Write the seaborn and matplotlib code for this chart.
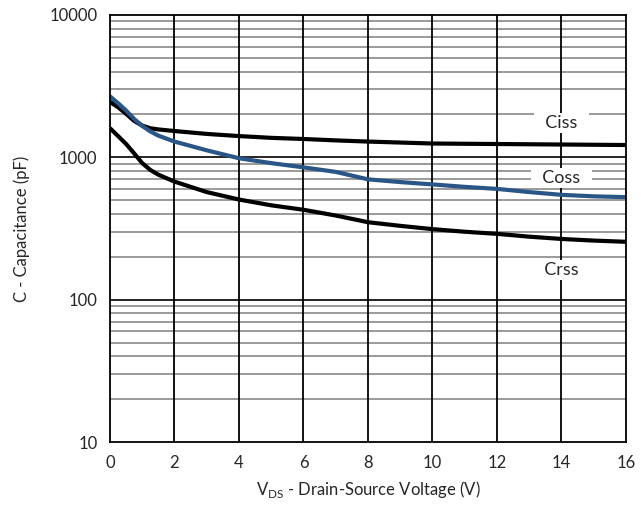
import numpy as np
import pandas as pd
import matplotlib
matplotlib.use('Agg')
import matplotlib.pyplot as plt
import seaborn as sns
from matplotlib.ticker import FixedLocator, NullFormatter

# values (pF vs V)
vds = [0, 0.25, 0.5, 0.75, 1, 1.25, 1.5, 2, 3, 4, 5, 6, 7, 8, 9, 10, 11, 12, 13, 14, 15, 16]
ciss = [2450, 2250, 2020, 1800, 1670, 1600, 1570, 1530, 1460, 1410, 1370, 1345, 1315, 1290,
        1270, 1250, 1245, 1240, 1235, 1230, 1225, 1220]
coss = [2680, 2400, 2130, 1860, 1660, 1520, 1420, 1290, 1120, 985, 910, 850, 790, 700,
        670, 645, 620, 600, 570, 545, 532, 525]
crss = [1600, 1410, 1240, 1065, 910, 815, 755, 675, 570, 505, 460, 428, 390, 350,
        330, 313, 300, 290, 277, 267, 260, 255]

series = ['Ciss', 'Coss', 'Crss']
colors = {'Ciss': 'black', 'Coss': '#2a5587', 'Crss': 'black'}
label_x = 14
label_y = {'Ciss': 1740, 'Coss': 716, 'Crss': 161}

df = pd.DataFrame({'vds': vds * 3,
                   'cap': ciss + coss + crss,
                   'curve': [s for s in series for _ in vds]})

sns.set_style('white')
plt.rcParams['font.family'] = ['Lato', 'DejaVu Sans']

fig = plt.figure(figsize=(6.41, 5.09), dpi=100)
ax = fig.add_axes([0.1716, 0.1316, 0.805, 0.839])

ax.set_yscale('log')
ax.set_xlim(0, 16)
ax.set_ylim(10, 10000)

# grid: gray minor decades, black majors and verticals
minors = [m * 10 ** d for d in range(1, 4) for m in range(2, 10)]
for y in minors:
    ax.axhline(y, color='#9a9a9a', lw=1.4, zorder=1)
for y in [100, 1000]:
    ax.axhline(y, color='black', lw=1.2, zorder=1)
for x in range(2, 16, 2):
    ax.axvline(x, color='black', lw=1.3, zorder=1)

sns.lineplot(data=df, x='vds', y='cap', hue='curve', palette=colors, lw=3,
             legend=False, ax=ax, zorder=3)

for s in series:
    ax.text(label_x, label_y[s], '  ' + s + '  ', ha='center', va='center', fontsize=13,
            bbox=dict(boxstyle='square,pad=0.12', fc='white', ec='none'), zorder=4)

ax.set_xticks(range(0, 17, 2))
ax.yaxis.set_major_locator(FixedLocator([10, 100, 1000, 10000]))
ax.yaxis.set_minor_formatter(NullFormatter())
ax.set_yticklabels(['10', '100', '1000', '10000'])
ax.tick_params(axis='both', which='both', length=0, labelsize=12, pad=9)

for sp in ax.spines.values():
    sp.set_color('black')
    sp.set_linewidth(1.3)
    sp.set_zorder(5)

ax.set_xlabel(r'V$_{\mathregular{DS}}$ - Drain-Source Voltage (V)', fontsize=12, labelpad=6)
ax.set_ylabel('C - Capacitance (pF)', fontsize=12, labelpad=14)

fig.savefig('out.png', dpi=100)
